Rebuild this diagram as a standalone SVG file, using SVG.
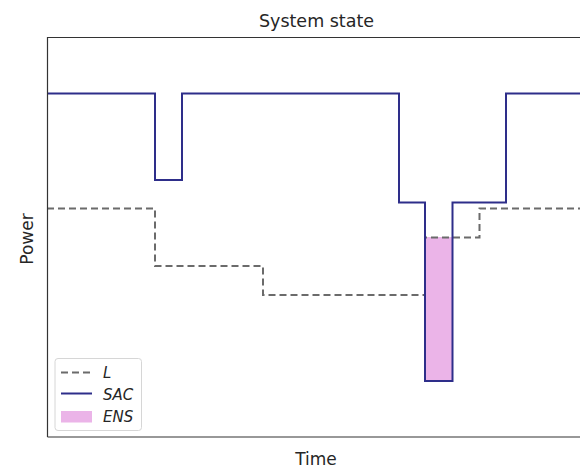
<svg xmlns="http://www.w3.org/2000/svg" width="580" height="468" viewBox="0 0 580 468">
<style>
text{font-family:"DejaVu Sans","Liberation Sans",sans-serif;fill:#262626}
.sac{fill:none;stroke:#2e2e8a;stroke-width:2;stroke-linejoin:miter}
.load{fill:none;stroke:#6b6b6b;stroke-width:2;stroke-dasharray:7 4}
.ens{fill:#ebb4e8;stroke:none}
.leg{font-size:15px;font-style:italic}
</style>
<rect width="580" height="468" fill="#fff"/>
<g id="plot">
<rect id="ens-area" class="ens" x="425" y="237" width="27.5" height="144"/>
<g id="connectors">
<path id="load" class="load" d="M47,208.5 H155 V266 H263 V295 H425 V237.5 H479.5 V208.5 H580"/>
<path id="sac" class="sac" d="M47,93.5 H155 V180 H182 V93.5 H399 V202.5 H425 V381 H452.5 V202.5 H506 V93.5 H580"/>
</g>
</g>
<g id="axes">
<path d="M47.5,437 V37.5 H580 M47.5,437 H580" fill="none" stroke="#333" stroke-width="1.2"/>
</g>
<text id="title" x="316.5" y="27" font-size="17.5" text-anchor="middle">System state</text>
<text id="xlabel" x="316" y="464.5" font-size="17" text-anchor="middle">Time</text>
<text id="ylabel" transform="translate(32.5,239) rotate(-90)" font-size="17" text-anchor="middle">Power</text>
<g id="legend">
<rect x="55" y="358.5" width="86.5" height="72" rx="3" fill="#fff" fill-opacity="0.8" stroke="#d6d6d6" stroke-width="1"/>
<line x1="61" y1="372.5" x2="92" y2="372.5" class="load"/>
<text class="leg" x="103" y="377.5">L</text>
<line x1="61" y1="393.5" x2="92" y2="393.5" class="sac"/>
<text class="leg" x="103" y="399.5">SAC</text>
<rect x="61" y="411" width="31" height="11.5" class="ens"/>
<text class="leg" x="103" y="422">ENS</text>
</g>
</svg>
